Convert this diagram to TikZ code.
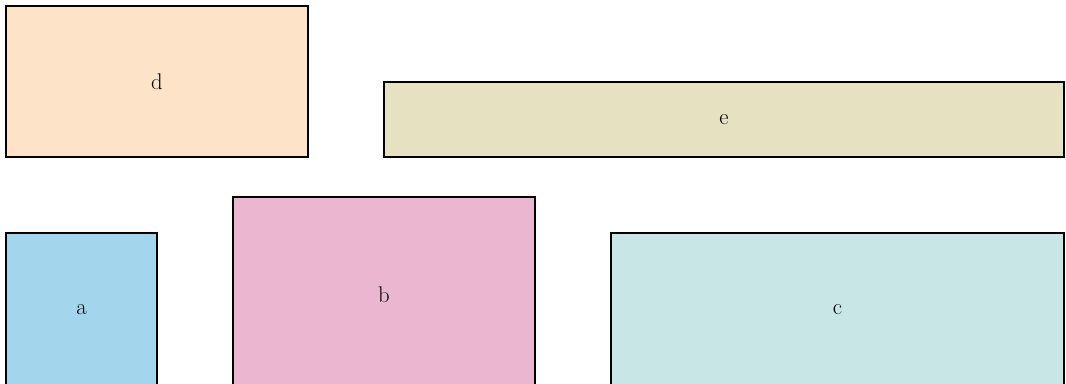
\documentclass[tikz,border=0pt]{standalone}
\usepackage{tikz}
\usetikzlibrary{positioning}
\definecolor{peach}{HTML}{FDE4C8}
\definecolor{khaki}{HTML}{E6E1C0}
\definecolor{skyblue}{HTML}{A3D6ED}
\definecolor{pink}{HTML}{EBB7D0}
\definecolor{mint}{HTML}{C8E6E5}

\begin{document}
\begin{tikzpicture}[x=0.75pt,y=-0.75pt,
    box/.style={draw=black,line width=1.4pt,rectangle,inner sep=0pt,outer sep=0pt,
      font=\fontsize{17}{20}\selectfont}]
  %% ---- page frame ----
  \useasboundingbox (0,0) rectangle (1066,383);
  \clip (0,0) rectangle (1066,383);
  %% ---- top row ----
  \node[box,fill=peach,minimum width=226.5pt,minimum height=113.25pt]
    (boxd) at (157,81.5) {d};
  \node[box,fill=khaki,minimum width=510pt,minimum height=56.25pt]
    (boxe) at (724,119.5) {e};
  %% ---- bottom row (cut by the page edge) ----
  \node[box,fill=skyblue,minimum width=113.25pt,minimum height=115.5pt]
    (boxa) at (81.5,310) {a};
  \node[box,fill=pink,minimum width=226.5pt,minimum height=146.25pt]
    (boxb) at (384,294.5) {b};
  \node[box,fill=mint,minimum width=339.75pt,minimum height=115.5pt]
    (boxc) at (837.5,310) {c};
\end{tikzpicture}
\end{document}
